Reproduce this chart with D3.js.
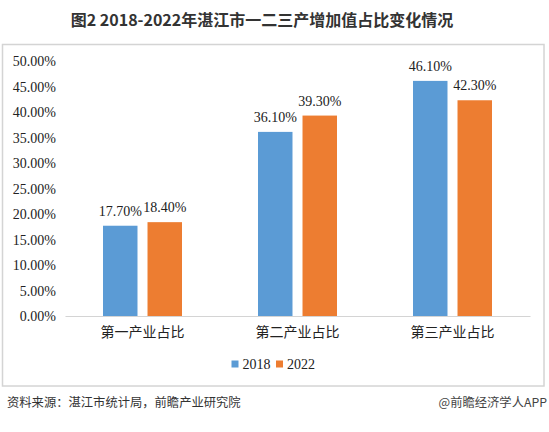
<!DOCTYPE html>
<html><head><meta charset="utf-8">
<script src="https://cdn.jsdelivr.net/npm/d3@7"></script>
<style>body{margin:0;background:#fff;}svg{display:block;}</style>
</head><body>
<script>
const title = "图2 2018-2022年湛江市一二三产增加值占比变化情况";
const categories = ["第一产业占比", "第二产业占比", "第三产业占比"];
const seriesNames = ["2018", "2022"];
const values2018 = [17.7, 36.1, 46.1];
const values2022 = [18.4, 39.3, 42.3];
const yTicks = [0, 5, 10, 15, 20, 25, 30, 35, 40, 45, 50];
const colors = ["#5b9bd5", "#ed7d31"];
const source = "资料来源：湛江市统计局，前瞻产业研究院";
const credit = "@前瞻经济学人APP";

const W = 549, H = 432;
const svg = d3.select("body").append("svg").attr("width", W).attr("height", H);
svg.append("rect").attr("width", W).attr("height", H).attr("fill", "#fff");

svg.append("text").attr("x", 262).attr("y", 26).attr("text-anchor", "middle")
  .attr("font-family", "'Noto Sans CJK SC', sans-serif").attr("font-weight", "bold")
  .attr("font-size", 16).attr("fill", "#333").text(title);

svg.append("rect").attr("x", 2.5).attr("y", 44.5).attr("width", 541.5).attr("height", 341.5)
  .attr("fill", "none").attr("stroke", "#d4d4d4").attr("stroke-width", 1.5);

const x0 = d3.scaleBand().domain(categories).range([65, 530]).paddingInner(0).paddingOuter(0);
const x1 = d3.scaleBand().domain(seriesNames).range([38, 117]).paddingInner(0.225);
const y = d3.scaleLinear().domain([0, 50]).range([316, 61]);

const yAxis = d3.axisLeft(y).tickValues(yTicks).tickSize(0).tickPadding(0)
  .tickFormat(d => d.toFixed(2) + "%");
const gy = svg.append("g").attr("transform", "translate(56,0)").call(yAxis);
gy.select(".domain").remove();
gy.selectAll("text").attr("font-family", "'Liberation Serif', serif").attr("font-size", 14)
  .attr("fill", "#222").attr("dy", "0.35em");

const data = categories.map((c, i) => ({cat: c, vals: [values2018[i], values2022[i]]}));
const groups = svg.append("g").selectAll("g").data(data).join("g")
  .attr("transform", d => `translate(${x0(d.cat)},0)`);
groups.selectAll("rect").data(d => d.vals.map((v, j) => ({k: seriesNames[j], v, j})))
  .join("rect")
  .attr("x", d => x1(d.k)).attr("width", x1.bandwidth())
  .attr("y", d => y(d.v)).attr("height", d => y(0) - y(d.v))
  .attr("fill", d => colors[d.j]);
groups.selectAll("text.lbl").data(d => d.vals.map((v, j) => ({k: seriesNames[j], v, j})))
  .join("text").attr("class", "lbl")
  .attr("x", d => x1(d.k) + x1.bandwidth() / 2).attr("y", d => y(d.v) - 10)
  .attr("text-anchor", "middle").attr("font-family", "'Liberation Serif', serif")
  .attr("font-size", 14).attr("fill", "#222").text(d => d.v.toFixed(2) + "%");

const xAxis = d3.axisBottom(x0).tickSize(0).tickPadding(0);
const gx = svg.append("g").attr("transform", `translate(0,${y(0)})`).call(xAxis);
gx.select(".domain").attr("stroke", "#d4d4d4").attr("stroke-width", 1.2);
gx.selectAll("text").attr("font-family", "'Noto Sans CJK SC', sans-serif").attr("font-size", 14)
  .attr("fill", "#222").attr("y", 16).attr("dy", "0.35em");

const legX = [231.5, 276];
const leg = svg.append("g").selectAll("g").data(seriesNames).join("g")
  .attr("transform", (d, i) => `translate(${legX[i]},360.5)`);
leg.append("rect").attr("width", 7).attr("height", 7).attr("fill", (d, i) => colors[i]);
leg.append("text").attr("x", 11).attr("y", 3.5).attr("dy", "0.35em")
  .attr("font-family", "'Liberation Serif', serif").attr("font-size", 14).attr("fill", "#222")
  .text(d => d);

svg.append("text").attr("x", 7).attr("y", 403).attr("dy", "0.35em")
  .attr("font-family", "'Noto Sans CJK SC', sans-serif").attr("font-size", 12.3)
  .attr("fill", "#333").text(source);
svg.append("text").attr("x", 547).attr("y", 403).attr("dy", "0.35em").attr("text-anchor", "end")
  .attr("font-family", "'Noto Sans CJK SC', sans-serif").attr("font-size", 12.3)
  .attr("fill", "#444").text(credit);
</script>
</body></html>
